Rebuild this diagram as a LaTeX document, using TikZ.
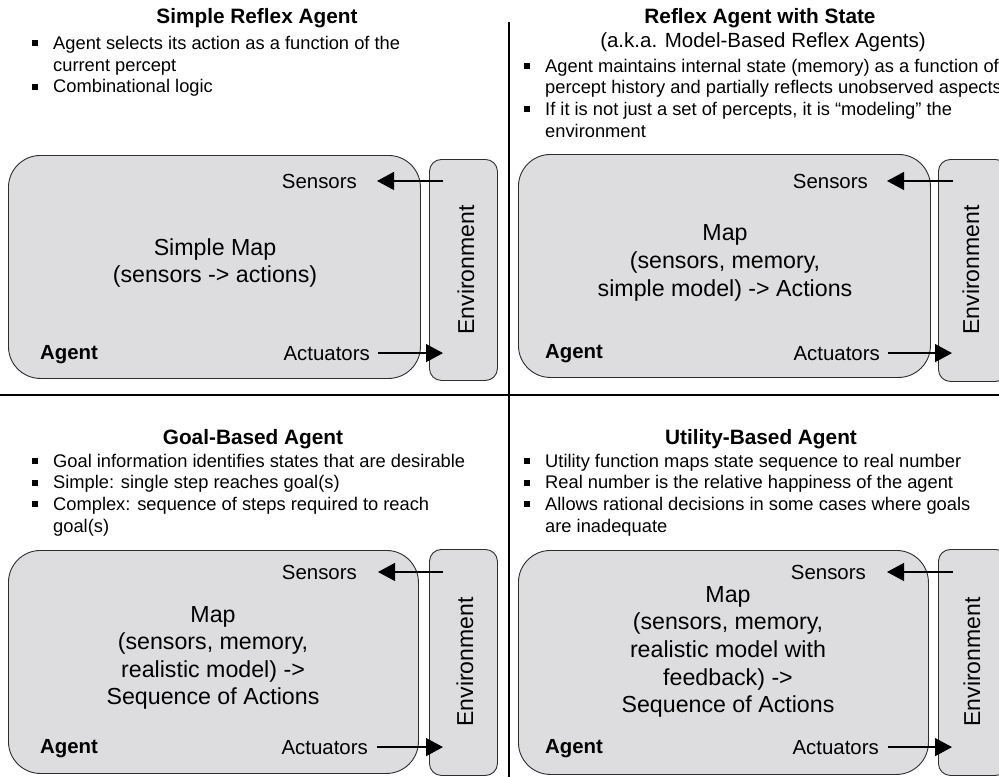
\documentclass[tikz,border=0pt]{standalone}
\usepackage{fontspec}
\setmainfont{Liberation Sans}
\usetikzlibrary{arrows.meta}
\usetikzlibrary{positioning}

\definecolor{boxgray}{RGB}{221,221,223}
\definecolor{edgegray}{RGB}{45,45,45}

% square bullet and hanging indent for the point lists
\newcommand{\bul}{\makebox[21pt][l]{\rule[3pt]{5.5pt}{6pt}}}
\newcommand{\ind}{\hspace*{21pt}}

\tikzset{
  agentbox/.style={draw=edgegray, fill=boxgray, line width=0.9pt, rounded corners=32pt, anchor=north west, inner sep=0pt},
  envbox/.style={draw=edgegray, fill=boxgray, line width=0.9pt, rounded corners=12pt, anchor=north west, inner sep=0pt},
  heading/.style={font=\bfseries\fontsize{20.8}{25}\selectfont, inner sep=0pt, anchor=base},
  subheading/.style={font=\fontsize{20.5}{25}\selectfont, inner sep=0pt, anchor=base},
  points/.style={font=\fontsize{18.3}{21.7}\selectfont, align=left, inner sep=0pt, anchor=north west},
  maptext/.style={font=\fontsize{23.2}{27.6}\selectfont, align=center, inner sep=0pt},
  port/.style={font=\fontsize{20.4}{24}\selectfont, inner sep=0pt, anchor=base east},
  agentlbl/.style={font=\bfseries\fontsize{20.4}{24}\selectfont, inner sep=0pt, anchor=base west},
  envlbl/.style={font=\fontsize{23}{27}\selectfont, inner sep=0pt, rotate=90},
  sig/.style={-{Triangle[length=17pt,width=18pt]}, line width=1.3pt},
  divider/.style={line width=1.3pt}
}

\begin{document}
\begin{tikzpicture}[x=1pt, y=-1pt]
  \useasboundingbox (0,0) rectangle (999,777);
  \clip (0,0) rectangle (999,777);

  % quadrant lines
  \draw[divider] (509,22) -- (509,777);
  \draw[divider] (0,395) -- (999,395);

  % --- simple reflex agent
  \node[heading] (title1) at (257,23) {Simple Reflex Agent};
  \node[points] (list1) at (32,36) {\bul Agent selects its action as a function of the\\
    \ind current percept\\
    \bul Combinational logic};
  \node[agentbox, minimum width=412pt, minimum height=223pt] (agent1) at (8,155) {};
  \node[envbox, minimum width=68pt, minimum height=221pt] (env1) at (429,159) {};
  \node[envlbl] (envt1) at (466,270) {Environment};
  \node[maptext] (map1) at (215,263) {Simple Map\\(sensors -> actions)};
  \node[port] (sens1) at (357,188) {Sensors};
  \node[port] (act1) at (370,360) {Actuators};
  \node[agentlbl] (name1) at (40,359) {Agent};
  \draw[sig] ([xshift=14pt]env1.west |- sens1.east) -- ([xshift=20pt]sens1.east);
  \draw[sig] ([xshift=8pt]act1.east) -- ([xshift=14pt]env1.west |- act1.east);

  % --- reflex agent with state
  \node[heading] (title2) at (760,23) {Reflex Agent with State};
  \node[subheading] (sub2) at (763,47) {(a.k.a. Model-Based Reflex Agents)};
  \node[points] (list2) at (524,58.6) {\bul Agent maintains internal state (memory) as a function of\\
    \ind percept history and partially reflects unobserved aspects\\
    \bul If it is not just a set of percepts, it is “modeling” the\\
    \ind environment};
  \node[agentbox, minimum width=412pt, minimum height=223pt] (agent2) at (518,154) {};
  \node[envbox, minimum width=69pt, minimum height=222pt] (env2) at (938,159) {};
  \node[envlbl] (envt2) at (971,270) {Environment};
  \node[maptext] (map2) at (725,263) {Map\\(sensors, memory,\\simple model) -> Actions};
  \node[port] (sens2) at (868,188) {Sensors};
  \node[port] (act2) at (880,360) {Actuators};
  \node[agentlbl] (name2) at (545,358) {Agent};
  \draw[sig] ([xshift=15pt]env2.west |- sens2.east) -- ([xshift=19pt]sens2.east);
  \draw[sig] ([xshift=8pt]act2.east) -- ([xshift=14pt]env2.west |- act2.east);

  % --- goal-based agent
  \node[heading] (title3) at (253,444) {Goal-Based Agent};
  \node[points] (list3) at (32,453.6) {\bul Goal information identifies states that are desirable\\
    \bul Simple: single step reaches goal(s)\\
    \bul Complex: sequence of steps required to reach\\
    \ind goal(s)};
  \node[agentbox, minimum width=410pt, minimum height=223pt] (agent3) at (8,550) {};
  \node[envbox, minimum width=68pt, minimum height=226pt] (env3) at (429,549) {};
  \node[envlbl] (envt3) at (465,662) {Environment};
  \node[maptext] (map3) at (213,658) {Map\\(sensors, memory,\\realistic model) ->\\Sequence of Actions};
  \node[port] (sens3) at (357,579) {Sensors};
  \node[port] (act3) at (368,754) {Actuators};
  \node[agentlbl] (name3) at (40,753) {Agent};
  \draw[sig] ([xshift=14pt]env3.west |- sens3.east) -- ([xshift=21pt]sens3.east);
  \draw[sig] ([xshift=9pt]act3.east) -- ([xshift=14pt]env3.west |- act3.east);

  % --- utility-based agent
  \node[heading] (title4) at (761,444) {Utility-Based Agent};
  \node[points] (list4) at (524,453.6) {\bul Utility function maps state sequence to real number\\
    \bul Real number is the relative happiness of the agent\\
    \bul Allows rational decisions in some cases where goals\\
    \ind are inadequate};
  \node[agentbox, minimum width=410pt, minimum height=224pt] (agent4) at (518,550) {};
  \node[envbox, minimum width=69pt, minimum height=226pt] (env4) at (938,549) {};
  \node[envlbl] (envt4) at (972,662) {Environment};
  \node[maptext] (map4) at (728,652) {Map\\(sensors, memory,\\realistic model with\\feedback) ->\\Sequence of Actions};
  \node[port] (sens4) at (866,579) {Sensors};
  \node[port] (act4) at (879,754) {Actuators};
  \node[agentlbl] (name4) at (545,753) {Agent};
  \draw[sig] ([xshift=15pt]env4.west |- sens4.east) -- ([xshift=21pt]sens4.east);
  \draw[sig] ([xshift=9pt]act4.east) -- ([xshift=14pt]env4.west |- act4.east);
\end{tikzpicture}
\end{document}
